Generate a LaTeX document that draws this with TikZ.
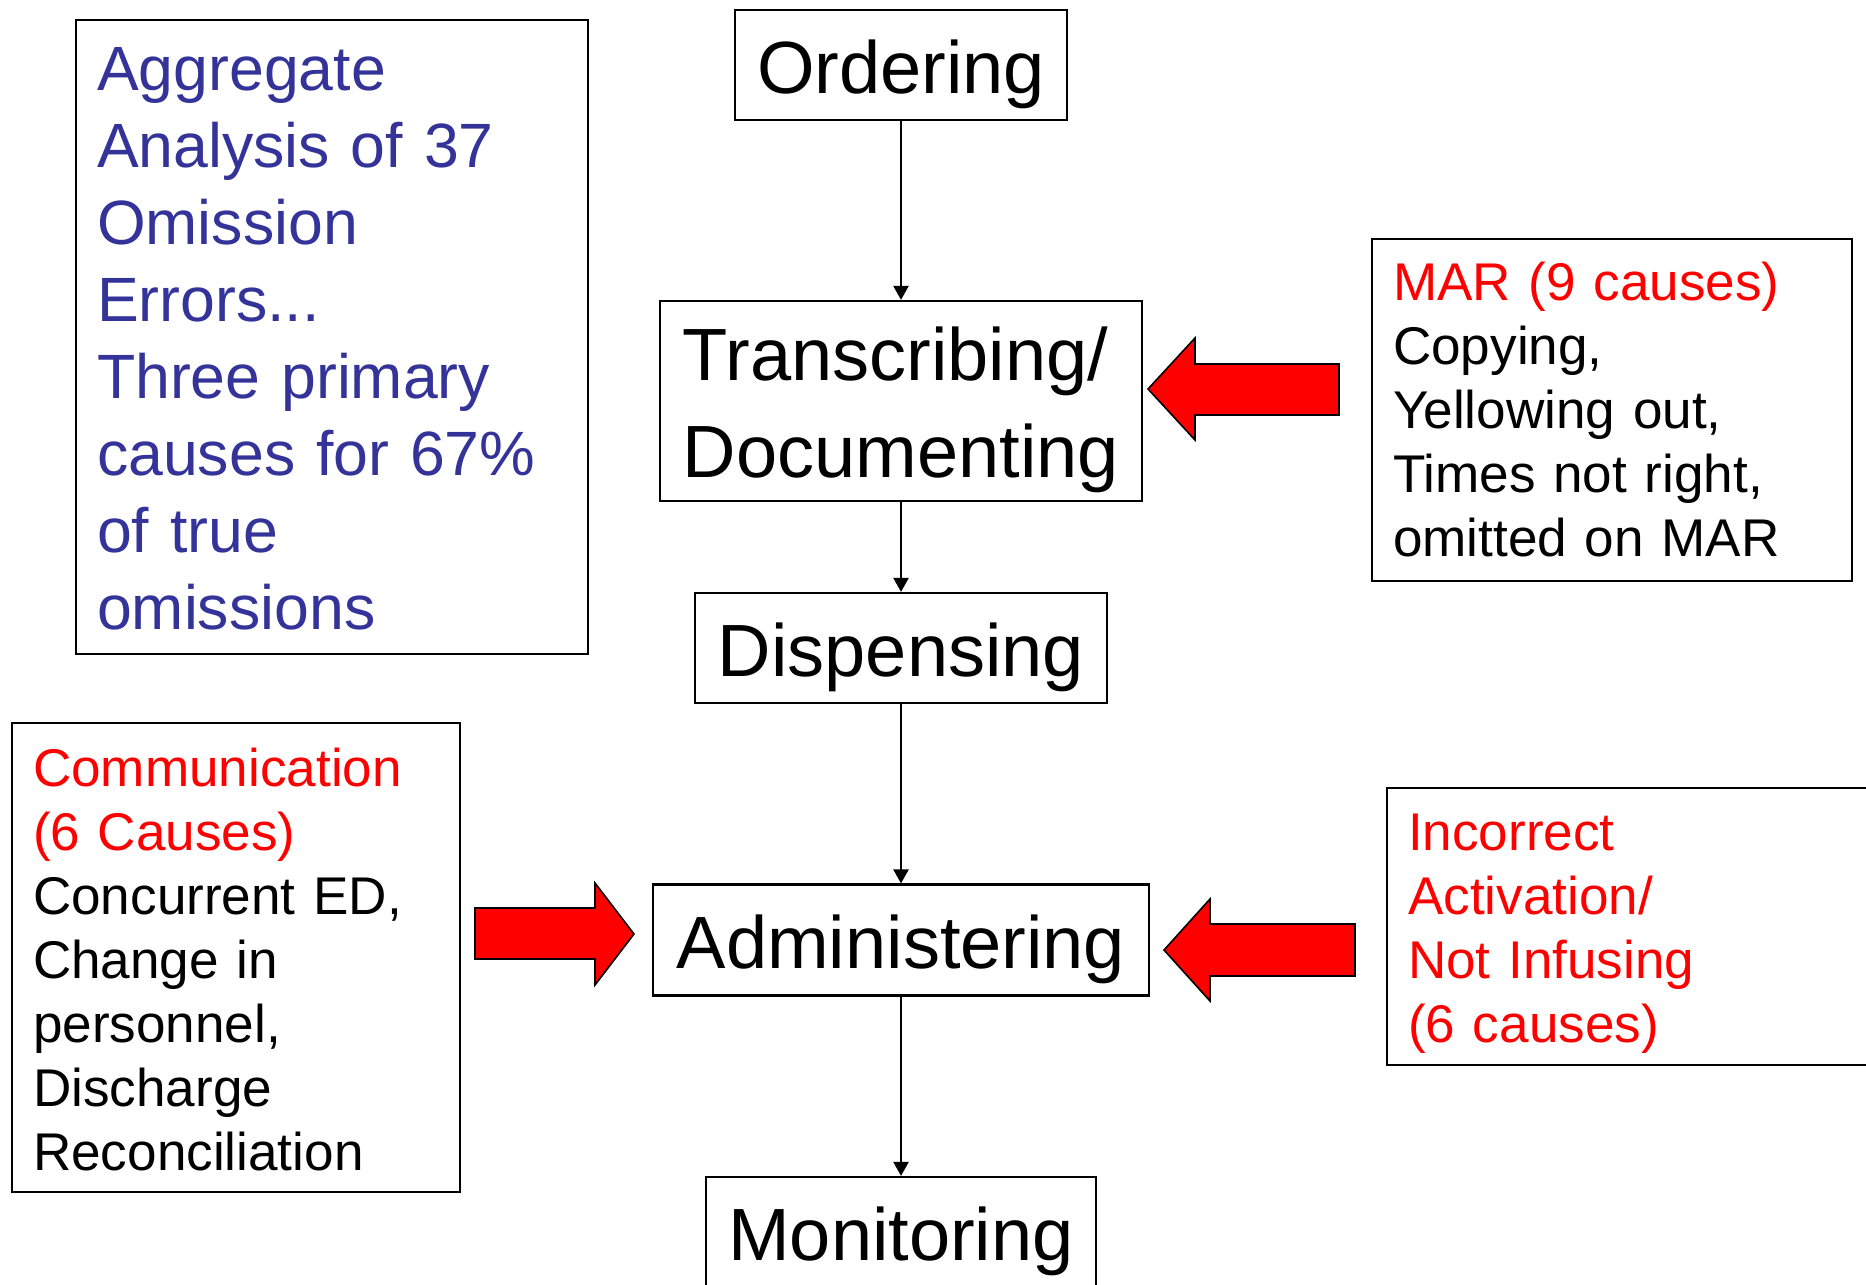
\documentclass[tikz,border=0pt]{standalone}
\usepackage{fontspec}
\setmainfont{Liberation Sans}
\usetikzlibrary{arrows.meta}

\definecolor{causered}{RGB}{255,0,0}
\definecolor{noteblue}{RGB}{51,51,153}

\begin{document}
\begin{tikzpicture}[x=0.01cm, y=-0.01cm, line width=0.6pt,
  stage/.style={draw, inner sep=0pt, font=\fontsize{21.05}{27.5}\selectfont},
  oneline/.style={stage, text height=16.2pt, text depth=0pt},
  causebox/.style={draw, anchor=north west, inner xsep=0.21cm, inner ysep=0pt, align=left,
    font=\fontsize{15.1}{18.2}\selectfont},
  flow/.style={-{Triangle[length=4pt,width=4.3pt]}},
  fatarrow/.style={draw, fill=causered, line width=0.45pt, line join=miter}]

\useasboundingbox (0,0) rectangle (1866,1285);

% the process chain
\node[oneline, minimum width=3.32cm, minimum height=1.1cm] (ord) at (901,65) {Ordering};
\node[stage, minimum width=4.82cm, minimum height=2cm, text height=35.1pt, text depth=19.9pt] (trans) at (901,401)
  {\begin{tabular}{@{}l@{}}Transcribing/\\Documenting\end{tabular}};
\node[oneline, minimum width=4.11cm, minimum height=1.1cm] (disp) at (901,648) {Dispensing};
\node[oneline, minimum width=4.95cm, minimum height=1.11cm] (admin) at (901,940) {Administering};
\node[oneline, minimum width=3.9cm, minimum height=1.1cm] (mon) at (901,1232) {Monitoring};

\draw[flow] (ord) -- (trans);
\draw[flow] (trans) -- (disp);
\draw[flow] (disp) -- (admin);
\draw[flow] (admin) -- (mon);

% summary note
\node[causebox, text width=4.7cm, text height=0.70cm, text depth=5.64cm, text=noteblue,
  font=\fontsize{17.8}{21.9}\selectfont] (note) at (75,19)
  {Aggregate\\Analysis of 37\\Omission\\Errors...\\Three primary\\causes for 67\%\\of true\\omissions};

% cause boxes
\node[causebox, text width=4.38cm, text height=0.61cm, text depth=2.81cm] (mar) at (1371,238)
  {\textcolor{causered}{MAR (9 causes)}\\Copying,\\Yellowing out,\\Times not right,\\omitted on MAR};

\node[causebox, text width=4.06cm, text height=0.63cm, text depth=4.06cm] (comm) at (11,722)
  {\textcolor{causered}{Communication}\\\textcolor{causered}{(6 Causes)}\\Concurrent ED,\\Change in\\personnel,\\Discharge\\Reconciliation};

\node[causebox, text width=4.6cm, text height=0.62cm, text depth=2.15cm, text=causered] (infuse) at (1386,787)
  {Incorrect\\Activation/\\Not Infusing\\(6 causes)};

% block arrows
\draw[fatarrow] (1148,389) -- (1195,338) -- (1195,364) -- (1339,364)
  -- (1339,415) -- (1195,415) -- (1195,440) -- cycle;

\draw[fatarrow] (634,934) -- (595,883) -- (595,908) -- (475,908)
  -- (475,959) -- (595,959) -- (595,985) -- cycle;

\draw[fatarrow] (1164,950) -- (1210,899) -- (1210,924) -- (1355,924)
  -- (1355,976) -- (1210,976) -- (1210,1001) -- cycle;

\end{tikzpicture}
\end{document}
